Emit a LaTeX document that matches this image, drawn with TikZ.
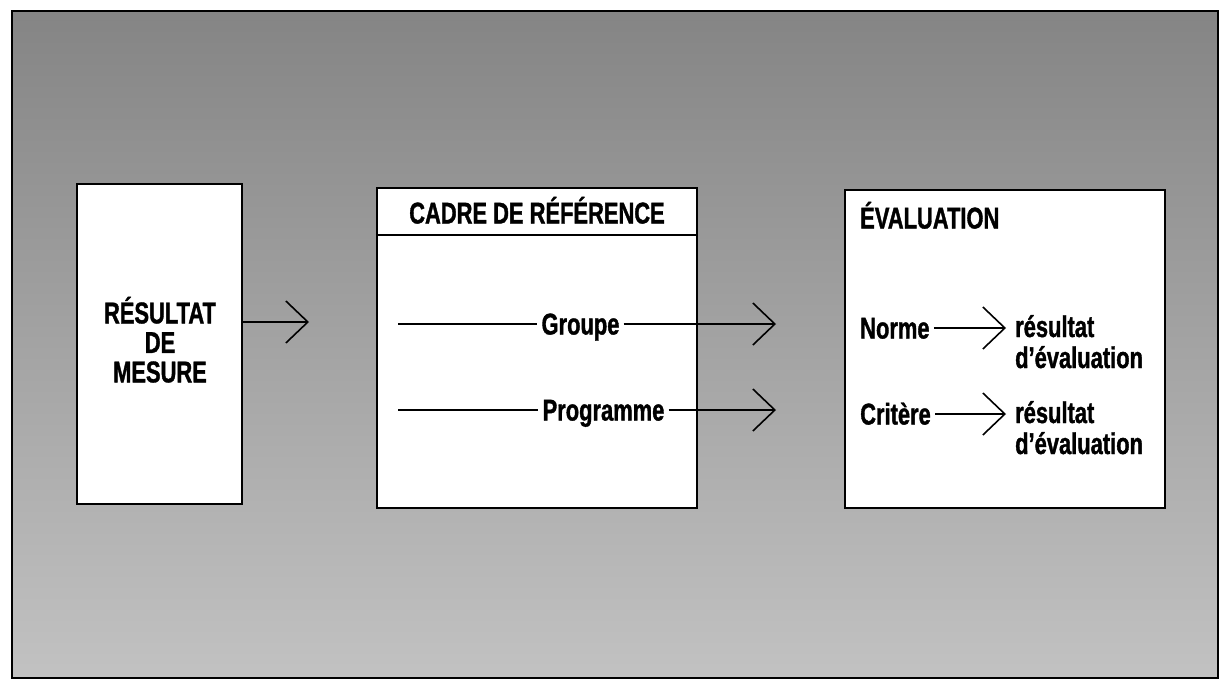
\documentclass[tikz,border=0pt]{standalone}
\usepackage{fontspec}
\newfontfamily\cond{Liberation Sans Bold}[FakeStretch=0.73, FakeBold=1.2]
\usetikzlibrary{arrows.meta}
\tikzset{
  box/.style={draw, fill=white, line width=2.2pt, inner sep=0pt},
  txt/.style={font=\cond\fontsize{30}{31}\selectfont, inner sep=0pt},
  lab/.style={txt, inner xsep=4pt, text height=21pt, text depth=0pt},
  plain/.style={line width=1.4pt},
  conn/.style={line width=1.6pt, -{Straight Barb[length=22pt,width=42pt]}},
  frame/.style={line width=1.6pt},
}
\begin{document}
\begin{tikzpicture}[x=1pt,y=-1pt]
\useasboundingbox (0,0) rectangle (1222,685);
% textured background approximated by a shading
\shade[top color=black!48, bottom color=black!24] (12,11) rectangle (1218,678);
\draw[frame] (12,11) rectangle (1218,678);

% left box
\node[box, minimum width=165pt, minimum height=320pt] (mesure) at (159.5,344) {};
\node[txt, align=center, font=\cond\fontsize{30}{29.5}\selectfont] (mesuretxt) at (160,339.7) {RÉSULTAT\\DE\\MESURE};
\coordinate (m1) at (309,322);
\draw[conn] (mesure.east |- m1) -- (m1);

% middle box
\node[box, minimum width=320pt, minimum height=320pt] (cadre) at (537,348) {};
\coordinate (hl) at (0,235);
\draw[line width=2pt] (cadre.west |- hl) -- (cadre.east |- hl);
\node[lab] (titre) at (537,213) {CADRE DE RÉFÉRENCE};

\node[lab] (groupe) at (580.5,324) {Groupe};
\coordinate (g0) at (398,324);
\coordinate (g1) at (776,324);
\draw[plain] (g0) -- (groupe.west);
\draw[conn] (groupe.east) -- (g1);

\node[lab] (prog) at (603.5,410) {Programme};
\coordinate (p0) at (398,410);
\coordinate (p1) at (776,410);
\draw[plain] (p0) -- (prog.west);
\draw[conn] (prog.east) -- (p1);

% right box
\node[box, minimum width=320pt, minimum height=318pt] (eval) at (1005,349) {};
\node[lab, anchor=west] (evtitre) at (856,218) {ÉVALUATION};

\node[lab, anchor=west] (norme) at (856,328) {Norme};
\coordinate (n1) at (1006,328);
\draw[conn] (norme.east) -- (n1);
\node[txt, anchor=north west, align=left] (r1) at (1015,314.8) {résultat\\d’évaluation};

\node[lab, anchor=west] (critere) at (856,414) {Critère};
\coordinate (c1) at (1006,414);
\draw[conn] (critere.east) -- (c1);
\node[txt, anchor=north west, align=left] (r2) at (1015,400.8) {résultat\\d’évaluation};
\end{tikzpicture}
\end{document}
